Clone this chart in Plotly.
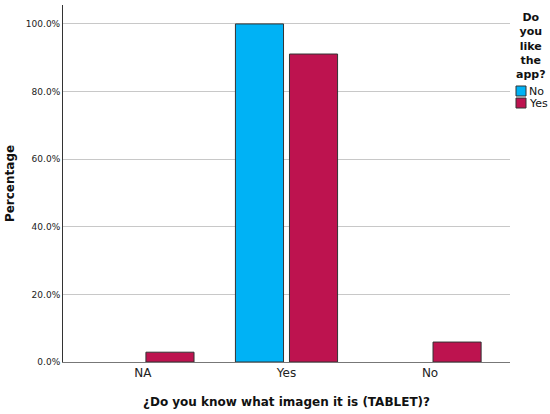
import plotly.graph_objects as go

# Percentages; None where a group has no bar.
categories = ["NA", "Yes", "No"]
pct_no = [None, 100.0, None]
pct_yes = [2.9, 91.1, 5.9]
series_names = ["No", "Yes"]
y_ticks = [0, 20, 40, 60, 80, 100]
y_ticktext = [f"{v:.1f}%" for v in y_ticks]
legend_title = "Do you like the app?"

COLORS = {"No": "#00B2F5", "Yes": "#BD134F"}
FONT = "DejaVu Sans"

# plot box in pixels (550x414 page) -> used to place the hand-drawn legend
L, R, T, B = 63, 40, 5, 52
PW, PH = 550 - L - R, 414 - T - B


def px_x(x):
    return (x - L) / PW


def px_y(y):
    return (414 - B - y) / PH


fig = go.Figure()
for name, vals in zip(series_names, [pct_no, pct_yes]):
    fig.add_trace(
        go.Bar(
            x=categories,
            y=vals,
            name=name,
            marker=dict(color=COLORS[name], line=dict(color="#333333", width=1)),
        )
    )

# legend: SPSS-style stacked title (one word per line) with square keys
fig.add_annotation(
    x=px_x(531), y=px_y(10), xref="paper", yref="paper",
    xanchor="center", yanchor="top", showarrow=False, align="center",
    borderpad=0,
    text="<b>" + "<br>".join(legend_title.split()) + "</b>",
    font=dict(family=FONT, size=11, color="#111111"),
)
for i, name in enumerate(series_names):
    top = 86 + i * 12
    fig.add_shape(
        type="rect", xref="paper", yref="paper",
        x0=px_x(516), x1=px_x(526), y0=px_y(top), y1=px_y(top + 10),
        fillcolor=COLORS[name], line=dict(color="#333333", width=1),
    )
    fig.add_annotation(
        x=px_x(528), y=px_y(top + 5), xref="paper", yref="paper",
        xanchor="left", yanchor="middle", showarrow=False, borderpad=0,
        text=name, font=dict(family=FONT, size=11, color="#111111"),
    )

fig.update_layout(
    width=550,
    height=414,
    margin=dict(l=L, r=R, t=T, b=B, autoexpand=False),
    paper_bgcolor="white",
    plot_bgcolor="white",
    barmode="group",
    bargap=0.247,
    bargroupgap=0.11,
    font=dict(family=FONT, size=10, color="#222222"),
    showlegend=False,
    xaxis=dict(
        range=[-0.557, 2.557],
        showline=True,
        linecolor="#777777",
        linewidth=1,
        ticks="",
        tickfont=dict(family=FONT, size=12, color="#222222"),
        title=dict(
            text="<b>¿Do you know what imagen it is (TABLET)?</b>",
            font=dict(family=FONT, size=12, color="#111111"),
            standoff=18,
        ),
    ),
    yaxis=dict(
        range=[0, 105.6],
        tickvals=y_ticks,
        ticktext=y_ticktext,
        showgrid=True,
        gridcolor="#C8C8C8",
        gridwidth=1,
        showline=True,
        linecolor="#333333",
        linewidth=1,
        ticks="",
        zeroline=False,
        tickfont=dict(family=FONT, size=9, color="#222222"),
        title=dict(
            text="<b>Percentage</b>",
            font=dict(family=FONT, size=12, color="#111111"),
            standoff=8,
        ),
    ),
)

# the page's default 8px body margin would shift and clip the 550x414 figure
fig.write_html(
    "out.html",
    config={"displayModeBar": False},
    post_script="document.body.style.margin='0';document.body.style.overflow='hidden';",
)
